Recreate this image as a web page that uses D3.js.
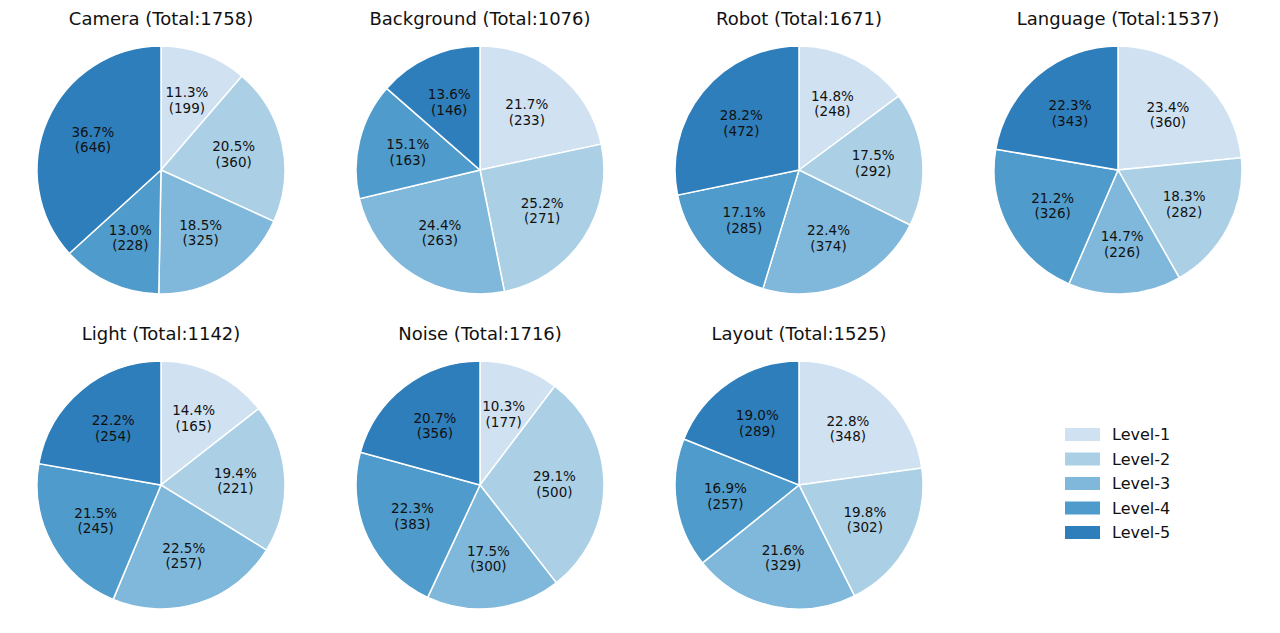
<!DOCTYPE html>
<html>
<head>
<meta charset="utf-8">
<script src="https://cdn.jsdelivr.net/npm/d3@7"></script>
<style>
  body { margin: 0; background: #fff; }
  text { font-family: "DejaVu Sans", sans-serif; fill: #111; }
</style>
</head>
<body>
<div id="chart"></div>
<script>
// categories and values
const categories = ["Camera", "Background", "Robot", "Language", "Light", "Noise", "Layout"];
const levels = ["Level-1", "Level-2", "Level-3", "Level-4", "Level-5"];
const camera = [199, 360, 325, 228, 646];
const background = [233, 271, 263, 163, 146];
const robot = [248, 292, 374, 285, 472];
const language = [360, 282, 226, 326, 343];
const light = [165, 221, 257, 245, 254];
const noise = [177, 500, 300, 383, 356];
const layout = [348, 302, 329, 257, 289];
const seriesValues = [camera, background, robot, language, light, noise, layout];

const colors = ["#d0e1f2", "#abd0e6", "#7fb8da", "#4f9bcb", "#2e7ebc"];

const width = 1280, height = 633;
const radius = 124;

const svg = d3.select("#chart").append("svg")
    .attr("width", width)
    .attr("height", height);

// grid positions
const colX = d3.scalePoint().domain([0, 1, 2, 3]).range([161, 1118]);
const rowY = d3.scalePoint().domain([0, 1]).range([170, 485]);

const color = d3.scaleOrdinal().domain(levels).range(colors);

const pie = d3.pie().sort(null).value(d => d.value);
const arc = d3.arc().innerRadius(0).outerRadius(radius);
const labelArc = d3.arc().innerRadius(radius * 0.6).outerRadius(radius * 0.6);

categories.forEach((cat, i) => {
    const vals = seriesValues[i];
    const total = d3.sum(vals);
    const data = vals.map((v, j) => ({ level: levels[j], value: v }));
    const g = svg.append("g")
        .attr("transform", `translate(${colX(i % 4)}, ${rowY(Math.floor(i / 4))})`);

    g.append("text")
        .attr("x", 0)
        .attr("y", -radius - 21)
        .attr("text-anchor", "middle")
        .style("font-size", "18px")
        .text(`${cat} (Total:${total})`);

    const slices = g.selectAll("g.slice")
        .data(pie(data))
        .enter()
        .append("g")
        .attr("class", "slice");

    slices.append("path")
        .attr("d", arc)
        .attr("fill", d => color(d.data.level))
        .attr("stroke", "#fff")
        .attr("stroke-width", 1.5);

    const lbl = slices.append("text")
        .attr("transform", d => `translate(${labelArc.centroid(d)})`)
        .attr("text-anchor", "middle")
        .style("font-size", "13.5px");
    lbl.append("tspan")
        .attr("x", 0)
        .attr("y", -3)
        .text(d => (d.data.value / total * 100).toFixed(1) + "%");
    lbl.append("tspan")
        .attr("x", 0)
        .attr("y", 12.5)
        .text(d => `(${d.data.value})`);
});

// legend
const legendY = d3.scalePoint().domain(levels).range([434, 532]);
const legend = svg.append("g");
const items = legend.selectAll("g")
    .data(levels)
    .enter()
    .append("g")
    .attr("transform", d => `translate(1065, ${legendY(d)})`);
items.append("rect")
    .attr("x", 0)
    .attr("y", -6)
    .attr("width", 35)
    .attr("height", 13)
    .attr("fill", d => color(d));
items.append("text")
    .attr("x", 47)
    .attr("y", 6)
    .style("font-size", "16px")
    .text(d => d);
</script>
</body>
</html>
